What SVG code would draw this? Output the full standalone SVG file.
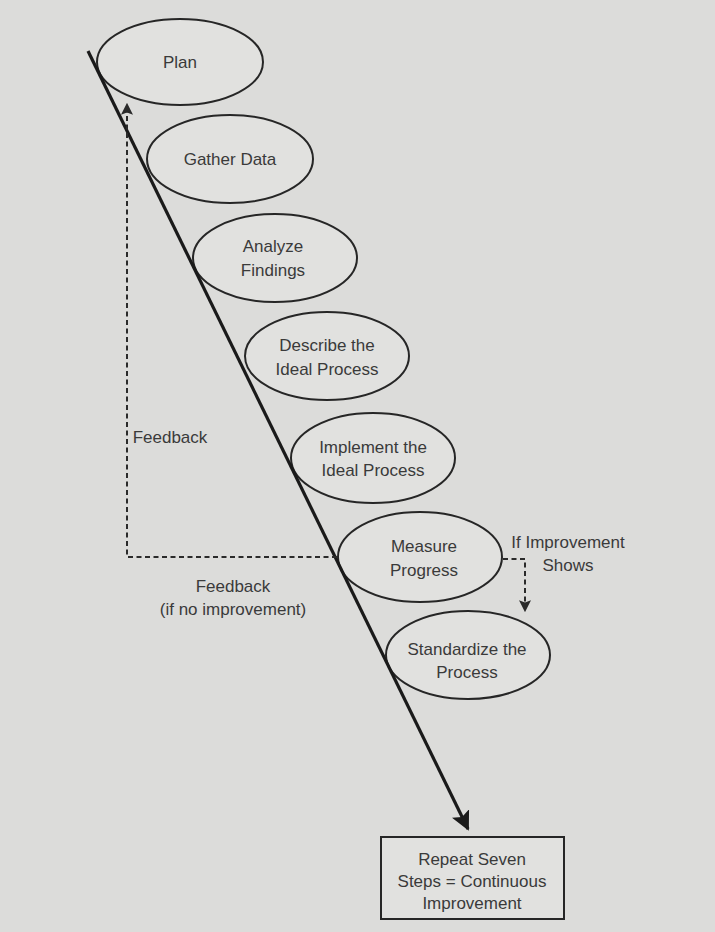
<svg xmlns="http://www.w3.org/2000/svg" width="715" height="932" viewBox="0 0 715 932">
<defs>
<style>
.bg{fill:#dcdcda}
.node ellipse{fill:#e1e1df;stroke:#262626;stroke-width:2}
.node rect{fill:#e1e1df;stroke:#262626;stroke-width:2}
text{font-family:"Liberation Sans",Arial,sans-serif;font-size:17px;fill:#3a3a3a;text-anchor:middle;dominant-baseline:central}
.main{stroke:#1a1a1a;stroke-width:3.2;fill:none}
.dash{stroke:#2a2a2a;stroke-width:2;stroke-dasharray:5 3.5;fill:none}
</style>
<marker id="bigHead" viewBox="0 0 10 10" refX="9" refY="5" markerWidth="6" markerHeight="6" markerUnits="strokeWidth" orient="auto">
<path d="M0,0 L10,5 L0,10 L2,5 Z" fill="#1a1a1a"/>
</marker>
<marker id="smallHead" viewBox="0 0 10 10" refX="9" refY="5" markerWidth="6" markerHeight="6" markerUnits="strokeWidth" orient="auto">
<path d="M0,0 L10,5 L0,10 L2,5 Z" fill="#2a2a2a"/>
</marker>
</defs>
<rect class="bg" x="0" y="0" width="715" height="932"/>

<g id="plan" class="node"><ellipse cx="180" cy="62" rx="83" ry="43"/><text x="180" y="62">Plan</text></g>
<g id="gather" class="node"><ellipse cx="230" cy="159" rx="83" ry="44"/><text x="230" y="159">Gather Data</text></g>
<g id="analyze" class="node"><ellipse cx="275" cy="258" rx="82" ry="44"/><text x="273" y="246">Analyze</text><text x="273" y="270">Findings</text></g>
<g id="describe" class="node"><ellipse cx="327" cy="356" rx="82" ry="44"/><text x="327" y="345">Describe the</text><text x="327" y="369">Ideal Process</text></g>
<g id="implement" class="node"><ellipse cx="373" cy="458" rx="82" ry="45"/><text x="373" y="447">Implement the</text><text x="373" y="470">Ideal Process</text></g>
<g id="measure" class="node"><ellipse cx="420" cy="557" rx="82" ry="45"/><text x="424" y="546">Measure</text><text x="424" y="570">Progress</text></g>
<g id="standardize" class="node"><ellipse cx="468" cy="655" rx="82" ry="44"/><text x="467" y="649">Standardize the</text><text x="467" y="672">Process</text></g>
<g id="repeat" class="node"><rect x="381" y="837" width="183" height="82"/><text x="472" y="859">Repeat Seven</text><text x="472" y="881">Steps = Continuous</text><text x="472" y="903">Improvement</text></g>

<g id="connectors">
<line class="main" x1="88" y1="51" x2="468" y2="829" marker-end="url(#bigHead)"/>
<polyline class="dash" points="337,557 127,557 127,104" marker-end="url(#smallHead)"/>
<polyline class="dash" points="503,559 525,559 525,611" marker-end="url(#smallHead)"/>
</g>

<g id="labels">
<text x="170" y="437">Feedback</text>
<text x="233" y="586">Feedback</text>
<text x="233" y="609">(if no improvement)</text>
<text x="568" y="542">If Improvement</text>
<text x="568" y="565">Shows</text>
</g>
</svg>
